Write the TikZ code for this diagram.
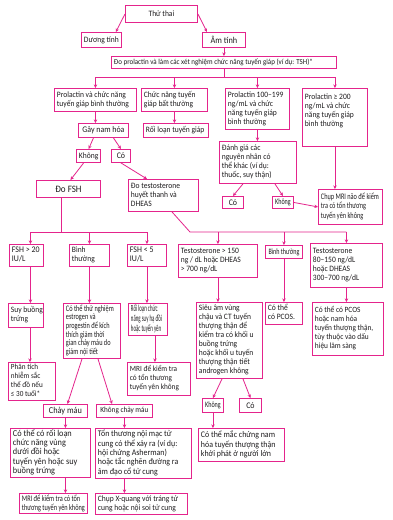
\documentclass[tikz,border=0pt]{standalone}
\usepackage{fontspec}
\setmainfont{Carlito}[FakeStretch=0.92]
\newfontfamily\ca{Carlito}[FakeStretch=0.74]
\newfontfamily\cb{Carlito}[FakeStretch=0.53]
\usetikzlibrary{arrows.meta,calc}
\definecolor{pk}{RGB}{228,36,140}
\definecolor{tx}{RGB}{30,28,30}
\newcommand\dn[1]{\rule[-#1]{0pt}{#1}}
\tikzset{
 box/.style={draw=pk, line width=0.9pt, fill=white, text=tx, inner xsep=2.5pt, inner ysep=1pt, font=\fontsize{8.2}{9}\selectfont, align=left, anchor=north west},
 fz/.style={font=\fontsize{#1}{9}\selectfont},
 ca/.style={font=\ca\fontsize{#1}{9}\selectfont},
 cb/.style={font=\cb\fontsize{#1}{9}\selectfont},
 arr/.style={draw=pk, line width=0.8pt, -{Stealth[length=3.6pt,width=3.4pt]}},
 ln/.style={draw=pk, line width=0.8pt},
}
% left aligned box
\newcommand\B[7][]{\node[box,minimum width=#5pt,minimum height=#6pt,#1] (#2) at (#3,#4) {\makebox[\dimexpr#5pt-5pt\relax][l]{\begin{tabular}{@{}l@{}}#7\end{tabular}}};}
% centred box
\newcommand\C[7][]{\node[box,align=center,minimum width=#5pt,minimum height=#6pt,#1] (#2) at (#3,#4) {#7};}
\begin{document}
\begin{tikzpicture}[x=1pt,y=-1pt]
\fill[white] (0,0) rectangle (392,520);
\useasboundingbox (0,0) rectangle (392,520);
% row 0
\C{thu}{125}{5}{72}{17}{Thử thai}
\C{duong}{81}{32}{37}{15}{Dương tính}
\C[fz=9]{am}{202}{32}{43}{15}{Âm tính}
\B[fz=7.6]{do}{111}{56}{225}{12}{Đo prolactin và làm các xét nghiệm chức năng tuyến giáp (ví dụ: TSH)*}
% row 1
\B{p1}{54}{88}{82}{23}{Prolactin và chức năng\\tuyến giáp bình thường}
\B{p2}{141}{88}{66}{23}{Chức năng tuyến\\giáp bất thường}
\B{p3}{225}{88}{64}{41}{Prolactin 100–199\\ng/mL và chức\\năng tuyến giáp\\bình thường}
\B{p4}{302}{88}{65}{58}{Prolactin ≥ 200\\ng/mL và chức\\năng tuyến giáp\\bình thường\dn{15pt}}
% row 2
\C[fz=8.6]{gay}{78}{123}{50}{14}{Gây nam hóa}
\B{roi}{143}{123}{65}{14}{Rối loạn tuyến giáp}
\C{khong1}{76}{149}{22}{13}{Không}
\C[fz=8.6]{co1}{111}{149}{19}{13}{Có}
\C[fz=9.8]{fsh}{36}{180}{64}{17}{Đo FSH}
\B{test}{128}{179}{70}{32}{Đo testosterone\\huyết thanh và\\DHEAS}
\B{dg}{219}{141}{77}{42}{Đánh giá các\\nguyên nhân có\\thể khác (ví dụ:\\thuốc, suy thận)}
\C[fz=8.6]{co2}{222}{196}{21}{12}{Có}
\C[ca=8.2]{kh2}{272}{196}{21}{12}{Không}
\B[ca=8.5]{mri1}{318}{189}{64}{35}{Chụp MRI não để kiểm\\tra có tổn thương\\tuyến yên không}
% row 3
\B[fz=8.6]{fsh20}{9}{244}{34}{22}{FSH > 20\\IU/L}
\B{bt1}{69}{244}{40}{22}{Bình\\thường}
\B[fz=8.6]{fsh5}{127}{244}{39}{22}{FSH < 5\\IU/L}
\B{t150}{178}{244}{79}{33}{Testosterone > 150\\ng / dL hoặc DHEAS\\> 700 ng/dL}
\C[ca=8.2]{bt2}{265}{245}{37}{13}{Bình thường}
\B{t80}{310}{243}{72}{44}{Testosterone\\80–150 ng/dL\\hoặc DHEAS\\300–700 ng/dL}
% row 4
\B{suy}{8}{303}{35}{24}{Suy buồng\\trứng}
\B[font=\ca\fontsize{8.5}{8.5}\selectfont]{thu2}{63}{303}{57}{55}{Có thể thử nghiệm\\estrogen và\\progestin để kích\\thích giảm thời\\gian chảy máu do\\giảm nội tiết}
\B[cb=9.2]{rl}{128}{303}{39}{32}{Rối loạn chức\\năng suy hạ đồi\\hoặc tuyến yên}
\B{sieu}{196}{302}{66}{76}{Siêu âm vùng\\chậu và CT tuyến\\thượng thận để\\kiểm tra có khối u\\buồng trứng\\hoặc khối u tuyến\\thượng thận tiết\\androgen không}
\B{pcos1}{265}{302}{37}{22}{Có thể\\có PCOS.}
\B[fz=8]{pcos2}{312}{302}{71}{53}{Có thể có PCOS\\hoặc nam hóa\\tuyến thượng thận,\\tùy thuộc vào dấu\\hiệu lâm sàng}
% row 5
\B[fz=7.8]{nst}{8}{362}{47}{34}{Phân tích\\nhiễm sắc\\thể đồ nếu\\≤ 30 tuổi*}
\B[fz=7.9]{mri2}{127}{362}{63}{33}{MRI để kiểm tra\\có tổn thương\\tuyến yên không}
\C[fz=9]{cm}{43}{404}{44}{13}{Chảy máu}
\C[fz=7.8]{kcm}{96}{404}{56}{13}{Không chảy máu}
\C[ca=8.2]{kh3}{202}{398}{21}{14}{Không}
\C[fz=8.6]{co3}{239}{398}{22}{14}{Có}
\B[fz=9]{rl2}{10}{428}{80}{49}{Có thể có rối loạn\\chức năng vùng\\dưới đồi hoặc\\tuyến yên hoặc suy\\buồng trứng}
\B[fz=8.6]{tt}{95}{428}{96}{50}{Tổn thương nội mạc tử\\cung có thể xảy ra (ví dụ:\\hội chứng Asherman)\\hoặc tắc nghẽn đường ra\\âm đạo cổ tử cung}
\B[fz=8.6]{nam}{198}{428}{86}{33}{Có thể mắc chứng nam\\hóa tuyến thượng thận\\khởi phát ở người lớn}
\B[ca=8.5]{mri3}{19}{493}{68}{20}{MRI để kiểm tra có tổn\\thương tuyến yên không}
\B[fz=8.2]{xq}{95}{493}{92}{21}{Chụp X-quang với tráng tử\\cung hoặc nội soi tử cung}
% connectors
\draw[arr] (thu.west) -- ($(duong.north east)+(-6,0)$);
\draw[arr] (thu.east) -- ($(am.north west)+(5,0)$);
\draw[arr] (am.south) -- (am.south |- do.north);
\coordinate (bus) at (0,77);
\draw[ln] (am.south |- do.south) -- (am.south |- bus);
\draw[ln] (p1.north |- bus) -- (p4.north |- bus);
\foreach \n in {p1,p2,p3,p4} \draw[arr] (\n.north |- bus) -- (\n.north);
\draw[arr] (p1.south) -- (p1.south |- gay.north);
\draw[arr] (p2.south) -- (p2.south |- roi.north);
\draw[arr] ($(gay.south)+(-10,0)$) -- (khong1.north);
\draw[arr] ($(gay.south)+(10,0)$) -- (co1.north);
\draw[arr] ($(khong1.south)+(-5,0)$) -- ($(fsh.north)+(2,0)$);
\draw[arr] (co1.south) -- ($(test.north west)+(19,0)$);
\coordinate (busa) at (0,232);
\draw[ln] ($(fsh.south)+(-7,0)$) -- ($(fsh.south |- busa)+(-7,0)$);
\draw[ln] ($(fsh20.north |- busa)+(4,0)$) -- (fsh5.north |- busa);
\draw[arr] ($(fsh20.north |- busa)+(4,0)$) -- ($(fsh20.north)+(4,0)$);
\draw[arr] (bt1.north |- busa) -- (bt1.north);
\draw[arr] (fsh5.north |- busa) -- (fsh5.north);
\coordinate (bend) at (190,232);
\draw[ln] ($(test.south west)+(44,0)$) -- (bend) -- (t80.north |- busa);
\draw[arr] (t150.north |- busa) -- (t150.north);
\draw[arr] (bt2.north |- busa) -- (bt2.north);
\draw[arr] (t80.north |- busa) -- (t80.north);
\draw[arr] (p3.south) -- (p3.south |- dg.north);
\draw[arr] ($(dg.south)+(-15,0)$) -- (co2.north);
\draw[arr] ($(dg.south)+(17,0)$) -- (kh2.north);
\draw[arr] (kh2.east) -- (mri1.west);
\draw[arr] (p4.south) -- (p4.south |- mri1.north);
\draw[arr] ($(fsh20.south)+(4,0)$) -- ($(fsh20.south |- suy.north)+(4,0)$);
\draw[arr] ($(suy.south)+(4,0)$) -- ($(suy.south |- nst.north)+(4,0)$);
\draw[arr] (bt1.south) -- (bt1.south |- thu2.north);
\draw[arr] (fsh5.south) -- (fsh5.south |- rl.north);
\draw[arr] ($(rl.south)+(7,0)$) -- ($(rl.south |- mri2.north)+(7,0)$);
\draw[arr] (t150.south) -- (t150.south |- sieu.north);
\draw[arr] (bt2.south) -- (bt2.south |- pcos1.north);
\draw[arr] (t80.south) -- (t80.south |- pcos2.north);
\draw[arr] ($(thu2.south west)+(19,0)$) -- ($(cm.north)+(2,0)$);
\draw[arr] ($(thu2.south west)+(35,0)$) -- ($(kcm.north west)+(16,0)$);
\draw[arr] (cm.south) -- (cm.south |- rl2.north);
\draw[arr] (cm.south |- rl2.south) -- (cm.south |- mri3.north);
\draw[arr] (kcm.south) -- (kcm.south |- tt.north);
\draw[arr] (kcm.south |- tt.south) -- (kcm.south |- xq.north);
\draw[arr] ($(sieu.south west)+(26,0)$) -- (kh3.north);
\draw[arr] ($(sieu.south west)+(47,0)$) -- (co3.north);
\draw[arr] (kh3.south) -- (kh3.south |- nam.north);
\end{tikzpicture}
\end{document}
